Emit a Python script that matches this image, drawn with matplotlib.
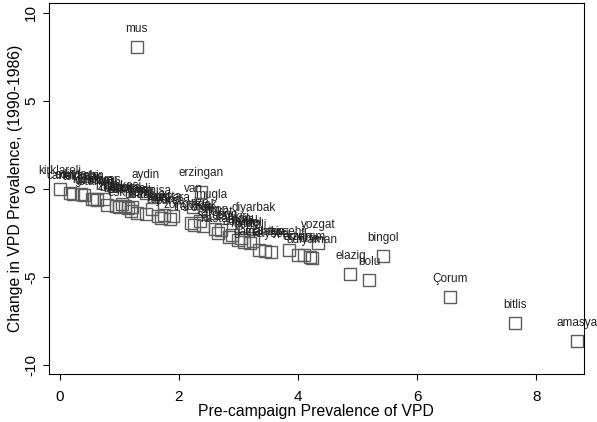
import matplotlib
matplotlib.use("Agg")
import matplotlib.pyplot as plt

plt.rcParams['font.family'] = ['Liberation Sans', 'DejaVu Sans']

# province names, pre-campaign prevalence (x) and change 1990-1986 (y)
names = ["kirklareli", "edirne", "canakkale", "nevsehir", "tekirdag", "kutahya",
         "giresun", "istanbul", "maras", "izmir", "burdur", "bilecik", "balikesi",
         "konya", "sakarya", "eskisehir", "kocaeli", "mus", "usak", "aydin",
         "antalya", "manisa", "kars", "afyon", "isparta", "bursa", "ankara",
         "erzingan", "van", "mugla", "zonguldak", "trabzon", "rize", "ordu",
         "sinop", "samsun", "tokat", "kastamonu", "cankiri", "diyarbak", "adana",
         "sivas", "hatay", "denizli", "icel", "gaziantep", "malatya", "kayseri",
         "yozgat", "kirsehir", "adiyaman", "artvin", "erzurum", "urfa",
         "elazig", "bolu", "bingol", "Çorum", "bitlis", "amasya"]
prev = [0.00, 0.18, 0.22, 0.35, 0.40, 0.55,
        0.58, 0.62, 0.75, 0.80, 0.95, 1.00, 1.05,
        1.10, 1.15, 1.20, 1.22, 1.29, 1.30, 1.45,
        1.45, 1.55, 1.65, 1.70, 1.75, 1.85, 1.90,
        2.38, 2.24, 2.55, 2.20, 2.25, 2.35, 2.40,
        2.60, 2.65, 2.70, 2.85, 2.90, 3.25, 3.00,
        3.05, 3.10, 3.20, 3.25, 3.35, 3.45, 3.55,
        4.34, 3.85, 4.24, 4.00, 4.10, 4.20,
        4.88, 5.20, 5.43, 6.55, 7.65, 8.68]
change = [0.00, -0.22, -0.30, -0.30, -0.35, -0.55,
          -0.60, -0.65, -0.55, -0.90, -0.95, -1.05, -0.85,
          -0.95, -1.10, -1.25, -1.05, 8.05, -1.35, -0.25,
          -1.40, -1.15, -1.55, -1.65, -1.50, -1.70, -1.55,
          -0.15, -1.05, -1.35, -1.95, -2.05, -1.85, -2.10,
          -2.25, -2.50, -2.35, -2.75, -2.60, -2.10, -2.90,
          -2.80, -3.00, -3.05, -2.95, -3.45, -3.50, -3.60,
          -3.10, -3.45, -3.90, -3.75, -3.75, -3.85,
          -4.85, -5.15, -3.80, -6.15, -7.60, -8.65]

fig = plt.figure(figsize=(5.97, 4.22), dpi=100)
ax = fig.add_axes([0.082, 0.114, 0.896, 0.879])

ax.plot(prev, change, linestyle='none', marker='s', markersize=8.6,
        markerfacecolor='none', markeredgecolor='#5c5c5c', markeredgewidth=1.0)
for n, x, y in zip(names, prev, change):
    ax.annotate(n, (x, y), xytext=(0, 13), textcoords='offset points',
                ha='center', va='center', fontsize=8.5, color='#222222')

ax.set_xlim(-0.18, 8.8)
ax.set_ylim(-10.5, 10.55)
ax.set_xticks([0, 2, 4, 6, 8])
ax.set_yticks([-10, -5, 0, 5, 10])
ax.set_yticklabels(["-10", "-5", "0", "5", "10"], rotation=90, va='center')
ax.tick_params(labelsize=11, length=4.3, direction='out')
ax.tick_params(axis='x', pad=7.5)
ax.tick_params(axis='y', pad=3.5)
ax.set_xlabel("Pre-campaign Prevalence of VPD", fontsize=11.3, labelpad=0)
ax.set_ylabel("Change in VPD Prevalence, (1990-1986)", fontsize=11.3, labelpad=0.5)

fig.savefig("out.png", dpi=100)
